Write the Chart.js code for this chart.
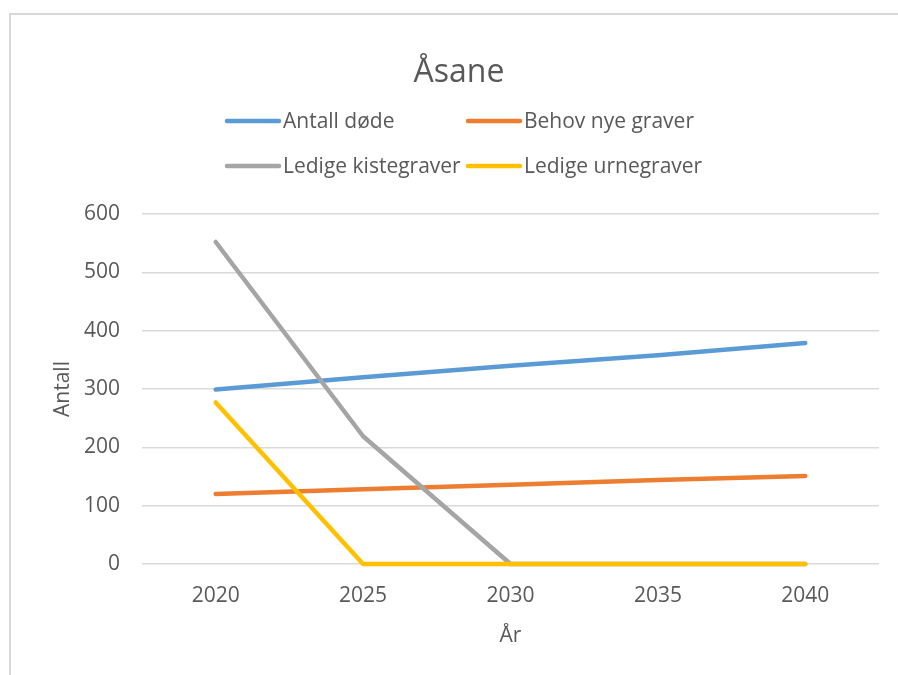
<!DOCTYPE html>
<html>
<head>
<meta charset="utf-8">
<script src="https://cdn.jsdelivr.net/npm/chart.js@4.4.1/dist/chart.umd.min.js"></script>
<style>
  html, body { margin: 0; padding: 0; background: #ffffff; width: 898px; height: 675px; overflow: hidden; }
  #frame { position: absolute; left: 9px; top: 13px; width: 900px; height: 700px;
           border-top: 2px solid #d9d9d9; border-left: 2px solid #d9d9d9; box-sizing: border-box; }
  #wrap { position: absolute; left: 0; top: 0; width: 898px; height: 675px; }
</style>
</head>
<body>
<div id="frame"></div>
<div id="wrap"><canvas id="c" width="898" height="675"></canvas></div>
<script>
const chartTitle = "Åsane";
const years = ["2020", "2025", "2030", "2035", "2040"];
const antallDode = [299, 320, 340, 358, 379];
const behovNyeGraver = [120, 128, 136, 144, 151];
const ledigeKistegraver = [552, 219, 0, 0, 0];
const ledigeUrnegraver = [277, 0, 0, 0, 0];
const seriesNames = ["Antall døde", "Behov nye graver", "Ledige kistegraver", "Ledige urnegraver"];
const seriesColors = ["#5B9BD5", "#ED7D31", "#A5A5A5", "#FFC000"];
const yTitle = "Antall";
const xTitle = "År";

const FONT = "'Open Sans', sans-serif";
const TEXT = "#595959";

const seriesData = [antallDode, behovNyeGraver, ledigeKistegraver, ledigeUrnegraver];

const headerPlugin = {
  id: 'header',
  afterDraw(chart) {
    const ctx = chart.ctx;
    ctx.save();
    ctx.fillStyle = TEXT;
    ctx.font = "32px " + FONT;
    ctx.textAlign = "center";
    ctx.textBaseline = "alphabetic";
    ctx.fillText(chartTitle, 459, 82);
    // legend: 2 columns, 2 rows
    const colX = [225, 466];
    const rowY = [121, 166];
    ctx.font = "21px " + FONT;
    ctx.textAlign = "left";
    ctx.textBaseline = "middle";
    chart.data.datasets.forEach((ds, i) => {
      const x = colX[i % 2], y = rowY[Math.floor(i / 2)];
      ctx.strokeStyle = ds.borderColor;
      ctx.lineWidth = 4.5;
      ctx.lineCap = "round";
      ctx.beginPath();
      ctx.moveTo(x + 2, y);
      ctx.lineTo(x + 54, y);
      ctx.stroke();
      ctx.fillStyle = TEXT;
      ctx.fillText(ds.label, x + 58, y + 1);
    });
    ctx.restore();
  }
};

new Chart(document.getElementById('c'), {
  type: 'line',
  data: {
    labels: years,
    datasets: seriesData.map((d, i) => ({
      label: seriesNames[i],
      data: d,
      borderColor: seriesColors[i],
      backgroundColor: seriesColors[i],
      borderWidth: 4.5,
      borderCapStyle: 'round',
      borderJoinStyle: 'round',
      pointRadius: 0,
      pointHoverRadius: 0,
      tension: 0,
      fill: false,
      clip: false,
      order: 3 - i
    }))
  },
  options: {
    responsive: false,
    animation: false,
    devicePixelRatio: 1,
    layout: { padding: { top: 214, right: 19, bottom: 0, left: 0 } },
    plugins: {
      legend: { display: false },
      title: { display: false },
      tooltip: { enabled: false }
    },
    scales: {
      x: {
        offset: true,
        grid: { display: false, drawTicks: false },
        border: { display: false },
        ticks: { color: TEXT, font: { family: FONT, size: 21 }, padding: 19, maxRotation: 0 },
        title: { display: true, text: xTitle, color: TEXT, font: { family: FONT, size: 21 }, padding: { top: 0, bottom: 26 } },
        afterFit(s) { s.height = 111; }
      },
      y: {
        min: 0, max: 600,
        ticks: { stepSize: 100, color: TEXT, font: { family: FONT, size: 21 }, padding: 22 },
        grid: { color: "#d9d9d9", lineWidth: 1.5, drawTicks: false },
        border: { display: false },
        title: { display: true, text: yTitle, color: TEXT, font: { family: FONT, size: 21 }, padding: { top: 50, bottom: 0 } },
        afterFit(s) { s.width = 142; }
      }
    }
  },
  plugins: [headerPlugin]
});
</script>
</body>
</html>
